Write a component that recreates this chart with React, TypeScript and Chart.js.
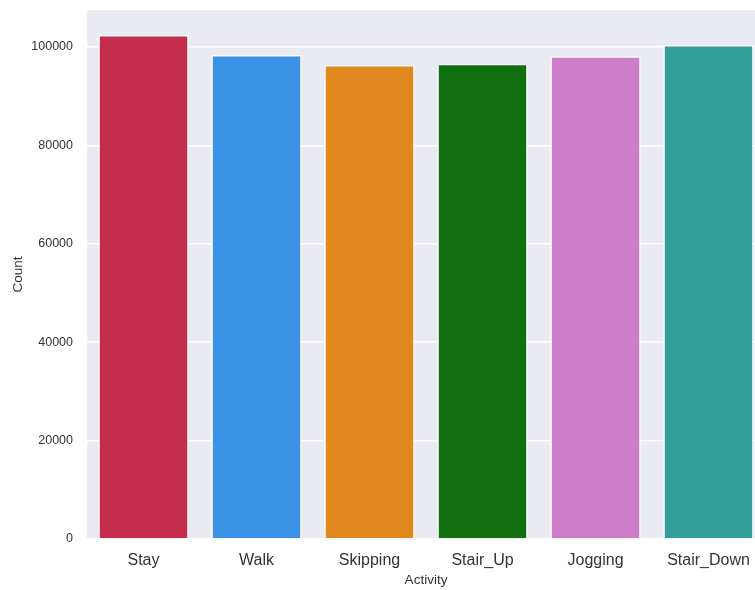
import React, { useEffect, useRef } from "react";
import { Chart, registerables } from "chart.js";

Chart.register(...registerables);

const categories = ["Stay", "Walk", "Skipping", "Stair_Up", "Jogging", "Stair_Down"];
const counts = [102440, 98370, 96340, 96600, 98110, 100400];
const barColors = ["#C42D4C", "#3B91E4", "#E1891F", "#107010", "#CE7EC8", "#32A099"];
const yTicks = [0, 20000, 40000, 60000, 80000, 100000];
const yMax = 107520;

const bgPlugin = {
  id: "plotBg",
  beforeDraw(chart: any) {
    const { ctx, chartArea } = chart;
    ctx.save();
    ctx.fillStyle = "#EAEAF2";
    ctx.fillRect(chartArea.left, chartArea.top, chartArea.right - chartArea.left, chartArea.bottom - chartArea.top);
    ctx.restore();
  },
};

export default function App() {
  const ref = useRef<HTMLCanvasElement>(null);
  useEffect(() => {
    if (!ref.current) return;
    const font = "'Liberation Sans', Arial, sans-serif";
    const chart = new Chart(ref.current, {
      type: "bar",
      data: {
        labels: categories,
        datasets: [
          {
            data: counts,
            backgroundColor: barColors,
            borderColor: "#FFFFFF",
            borderWidth: 1.5,
            categoryPercentage: 0.8,
            barPercentage: 1,
          },
        ],
      },
      options: {
        animation: false,
        responsive: false,
        maintainAspectRatio: false,
        layout: { padding: { top: 10, left: 0, right: 0, bottom: 0 } },
        plugins: { legend: { display: false }, tooltip: { enabled: false } },
        scales: {
          x: {
            grid: { display: false, drawTicks: false },
            border: { display: false },
            ticks: { color: "#333", font: { family: font, size: 16 }, padding: 12 },
            title: {
              display: true,
              text: "Activity",
              color: "#333",
              font: { family: font, size: 13.5 },
              padding: { top: 0, bottom: 2 },
            },
            afterFit(scale: any) {
              scale.height = 51;
              scale.paddingLeft = 0;
              scale.paddingRight = 0;
            },
          },
          y: {
            min: 0,
            max: yMax,
            grid: { color: "#FFFFFF", lineWidth: 1.5, drawTicks: false },
            border: { display: false },
            ticks: {
              color: "#333",
              font: { family: font, size: 12.5 },
              padding: 14,
              callback: (v: any) => String(v),
            },
            afterBuildTicks(scale: any) {
              scale.ticks = yTicks.map((v) => ({ value: v }));
            },
            title: {
              display: true,
              text: "Count",
              color: "#333",
              font: { family: font, size: 13.5 },
              padding: { top: 10, bottom: 0 },
            },
            afterFit(scale: any) {
              scale.width = 87;
              scale.paddingTop = 0;
              scale.paddingBottom = 0;
            },
          },
        },
      },
      plugins: [bgPlugin],
    });
    return () => chart.destroy();
  }, []);
  return (
    <div style={{ position: "absolute", left: 0, top: 0, width: 755, height: 590, overflow: "hidden", background: "#fff" }}>
      <canvas ref={ref} width={765} height={590} style={{ display: "block" }} />
    </div>
  );
}
